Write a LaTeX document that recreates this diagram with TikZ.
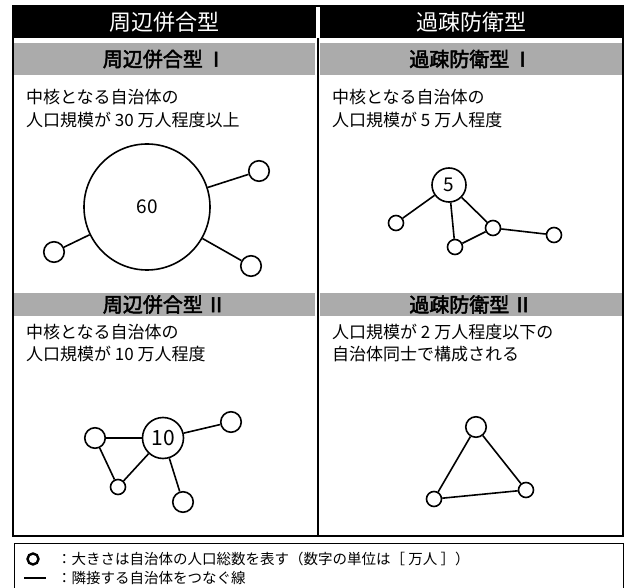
\documentclass[tikz,border=0pt]{standalone}
\usepackage{fontspec}
\setmainfont{Noto Sans CJK JP}
\newfontfamily\boldcjk[FakeBold=2.5]{Noto Sans CJK JP}
\begin{document}
\begin{tikzpicture}[x=1pt,y=-1pt,
  city/.style={circle,draw,line width=1.6pt,inner sep=0pt,minimum size=#1,fill=white},
  edge/.style={line width=1.6pt},
  hdr/.style={text=white,font=\fontsize{22}{24}\selectfont,inner sep=0pt},
  band/.style={fill=black!33},
  bandtxt/.style={font=\boldcjk\fontsize{20}{22}\selectfont,inner sep=0pt},
  body/.style={anchor=west,font=\fontsize{17}{19}\selectfont,inner sep=0pt},
  num/.style={font=\fontsize{19}{21}\selectfont},
  leg/.style={anchor=west,font=\fontsize{14.5}{16}\selectfont,inner sep=0pt}]
\useasboundingbox (0,0) rectangle (625,588);
% header bands
\fill (13,6) rectangle (316,38);
\fill (320,6) rectangle (623,38);
\node[hdr] (h1) at (164.5,22) {周辺併合型};
\node[hdr] (h2) at (471,22) {過疎防衛型};
% grey bands
\fill[band] (13,43) rectangle (315,75);
\fill[band] (320,43) rectangle (623,75);
\fill[band] (13,293) rectangle (315,316);
\fill[band] (320,293) rectangle (623,316);
\node[bandtxt] (b1) at (164.5,59) {周辺併合型\,Ⅰ};
\node[bandtxt] (b2) at (471,59) {過疎防衛型\,Ⅰ};
\node[bandtxt] (b3) at (164.5,304.5) {周辺併合型\,Ⅱ};
\node[bandtxt] (b4) at (471,304.5) {過疎防衛型\,Ⅱ};
% frame
\draw[line width=1.2pt] (13,6) rectangle (623,536);
\draw[line width=1.8pt] (318,38) -- (318,536);
% body texts
\node[body] (t1a) at (26,97) {中核となる自治体の};
\node[body] (t1b) at (26,120) {人口規模が 30 万人程度以上};
\node[body] (t2a) at (332,97) {中核となる自治体の};
\node[body] (t2b) at (332,120) {人口規模が 5 万人程度};
\node[body] (t3a) at (26,332) {中核となる自治体の};
\node[body] (t3b) at (26,354) {人口規模が 10 万人程度};
\node[body] (t4a) at (332,332) {人口規模が 2 万人程度以下の};
\node[body] (t4b) at (332,354) {自治体同士で構成される};
% diagram I
\node[city=126pt,num] (c60) at (147,207) {60};
\node[city=20.5pt] (p1) at (259,171) {};
\node[city=20.5pt] (p2) at (54,252) {};
\node[city=20.5pt] (p3) at (251,266) {};
\draw[edge] (c60) -- (p1);
\draw[edge] (c60) -- (p2);
\draw[edge] (c60) -- (p3);
% diagram III (5)
\node[city=34pt,num] (c5) at (449,185) {5};
\node[city=15pt] (q1) at (396,223) {};
\node[city=15pt] (q2) at (455,247) {};
\node[city=15pt] (q3) at (493,228) {};
\node[city=15pt] (q4) at (554,235) {};
\draw[edge] (c5) -- (q1);
\draw[edge] (c5) -- (q2);
\draw[edge] (c5) -- (q3);
\draw[edge] (q2) -- (q3);
\draw[edge] (q3) -- (q4);
% diagram II (10)
\node[city=41pt,font=\fontsize{21}{23}\selectfont] (c10) at (163,438) {10};
\node[city=20.5pt] (r1) at (95,438) {};
\node[city=15pt] (r2) at (118,487) {};
\node[city=20.5pt] (r3) at (183,502) {};
\node[city=20.5pt] (r4) at (231,422) {};
\draw[edge] (c10) -- (r1);
\draw[edge] (r1) -- (r2);
\draw[edge] (r2) -- (c10);
\draw[edge] (c10) -- (r3);
\draw[edge] (c10) -- (r4);
% diagram IV
\node[city=20.5pt] (s1) at (476,427) {};
\node[city=15pt] (s2) at (434,499) {};
\node[city=15pt] (s3) at (526,490) {};
\draw[edge] (s1) -- (s2);
\draw[edge] (s2) -- (s3);
\draw[edge] (s3) -- (s1);
% legend
\draw[line width=1pt] (14,590) -- (14,544) -- (623,544) -- (623,590);
\node[circle,draw,line width=2.4pt,minimum size=11pt,inner sep=0pt] (lc) at (33,559) {};
\coordinate (la) at (24,578);
\coordinate (lb) at (46,578);
\draw[line width=2.4pt] (la) -- (lb);
\node[leg] (l1) at (57,559) {：大きさは自治体の人口総数を表す（数字の単位は［ 万人 ］）};
\node[leg] (l2) at (57,578) {：隣接する自治体をつなぐ線};
\end{tikzpicture}
\end{document}
